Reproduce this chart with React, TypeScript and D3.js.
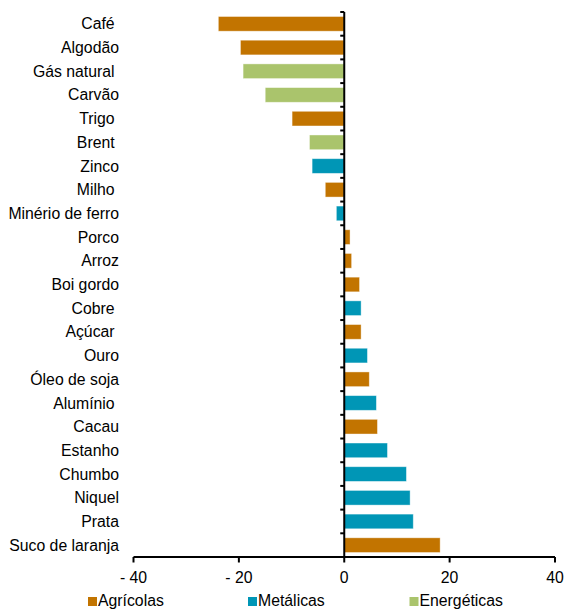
import React from "react";
import * as d3 from "d3";

const categories = [
  "Café ", "Algodão", "Gás natural ", "Carvão", "Trigo ", "Brent ", "Zinco",
  "Milho ", "Minério de ferro", "Porco", "Arroz", "Boi gordo", "Cobre ",
  "Açúcar ", "Ouro", "Óleo de soja", "Alumínio ", "Cacau", "Estanho",
  "Chumbo", "Niquel", "Prata", "Suco de laranja",
];
const values = [
  -23.9, -19.7, -19.2, -15.0, -9.9, -6.6, -6.1, -3.6, -1.5, 1.1, 1.4, 2.9,
  3.2, 3.2, 4.4, 4.75, 6.1, 6.3, 8.2, 11.8, 12.5, 13.1, 18.2,
];
const groups = [
  "Agrícolas", "Agrícolas", "Energéticas", "Energéticas", "Agrícolas",
  "Energéticas", "Metálicas", "Agrícolas", "Metálicas", "Agrícolas",
  "Agrícolas", "Agrícolas", "Metálicas", "Agrícolas", "Metálicas",
  "Agrícolas", "Metálicas", "Agrícolas", "Metálicas", "Metálicas",
  "Metálicas", "Metálicas", "Agrícolas",
];
const legendNames = ["Agrícolas", "Metálicas", "Energéticas"];
const legendColors = ["#C27400", "#0096B6", "#AAC46C"];
const xTicks = [-40, -20, 0, 20, 40];
const xTickLabels = ["- 40", "- 20", "0", "20", "40"];

const W = 566;
const H = 610;
const font = "'Liberation Sans', Arial, sans-serif";
const FS = 15.8;

export default function App() {
  const x = d3.scaleLinear().domain([-40, 40]).range([133.5, 555]);
  const y = d3
    .scaleBand<string>()
    .domain(categories)
    .range([12, 557])
    .paddingInner(0.38)
    .paddingOuter(0.19);
  const color = d3.scaleOrdinal<string, string>().domain(legendNames).range(legendColors);
  const step = y.step();
  const bandStart = 12;
  const legendX = [88, 248, 409.5];

  return (
    <svg
      width={W}
      height={H}
      style={{ position: "absolute", left: 0, top: 0, background: "#fff" }}
      fontFamily={font}
    >
      <rect x={0} y={0} width={W} height={H} fill="#ffffff" />
      {/* bars */}
      {categories.map((c, i) => {
        const v = values[i];
        const x0 = x(Math.min(0, v));
        const x1 = x(Math.max(0, v));
        return (
          <rect
            key={c}
            x={x0}
            y={y(c)}
            width={x1 - x0}
            height={y.bandwidth()}
            fill={color(groups[i])}
            stroke="#ffffff"
            strokeOpacity={0.5}
            strokeWidth={0.8}
          />
        );
      })}
      {/* category labels */}
      {categories.map((c) => (
        <text
          key={"l" + c}
          x={119}
          y={(y(c) as number) + y.bandwidth() / 2}
          dy="0.35em"
          textAnchor="end"
          fontSize={FS}
          fill="#000"
          style={{ whiteSpace: "pre" }}
        >
          {c}
        </text>
      ))}
      {/* vertical axis */}
      <line x1={x(0)} x2={x(0)} y1={12} y2={557} stroke="#000" strokeWidth={2} />
      {d3.range(categories.length).map((i) => (
        <line
          key={"vt" + i}
          x1={x(0) - 4}
          x2={x(0)}
          y1={bandStart + i * step}
          y2={bandStart + i * step}
          stroke="#000"
          strokeWidth={2}
        />
      ))}
      {/* horizontal axis */}
      <line x1={x(-40)} x2={x(40)} y1={557} y2={557} stroke="#000" strokeWidth={2} />
      {xTicks.map((t, i) => (
        <g key={"xt" + t}>
          <line x1={x(t)} x2={x(t)} y1={557} y2={562.5} stroke="#000" strokeWidth={2} />
          <text x={x(t)} y={582.5} textAnchor="middle" fontSize={FS} fill="#000">
            {xTickLabels[i]}
          </text>
        </g>
      ))}
      {/* legend */}
      {legendNames.map((n, i) => (
        <g key={"lg" + n}>
          <rect x={legendX[i]} y={597} width={9} height={9} fill={legendColors[i]} />
          <text x={legendX[i] + 10} y={606} fontSize={FS} fill="#000">
            {n}
          </text>
        </g>
      ))}
    </svg>
  );
}
